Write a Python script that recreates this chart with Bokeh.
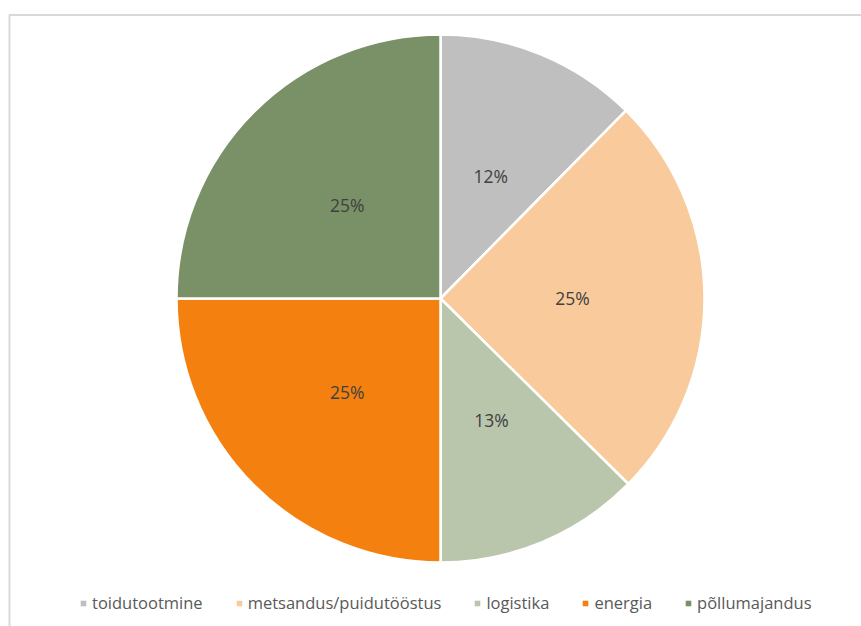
import math
from bokeh.plotting import figure
from bokeh.models import Range1d, Legend, LegendItem, ColumnDataSource
from bokeh.core.properties import value
from bokeh.embed import file_html
from bokeh.resources import INLINE

categories = ["toidutootmine", "metsandus/puidutööstus", "logistika", "energia", "põllumajandus"]
values = [12.4, 25.0, 12.6, 25.0, 25.0]
labels = ["12%", "25%", "13%", "25%", "25%"]
colors = ["#BFBFBF", "#F9CB9C", "#BAC6AC", "#F4800F", "#7A9167"]

W, H = 861, 626
p = figure(width=W, height=H, output_backend="svg", toolbar_location=None,
           x_range=Range1d(0, W), y_range=Range1d(-H, 0),
           min_border=0, min_border_left=0, min_border_right=0,
           min_border_top=0, min_border_bottom=0)
p.axis.visible = False
p.grid.visible = False
p.outline_line_color = None
p.background_fill_color = "white"
p.border_fill_color = "white"

# chart-area frame (top and left edges visible)
p.line(x=[9, 9, W + 5], y=[-H - 5, -14.5, -14.5], line_color="#D9D9D9", line_width=2)

cx, cy, R = 440, -298, 264
total = sum(values)
starts, ends, lx, ly = [], [], [], []
cum = 0.0
for v in values:
    a0 = math.pi / 2 - 2 * math.pi * cum / total
    cum += v
    a1 = math.pi / 2 - 2 * math.pi * cum / total
    starts.append(a0)
    ends.append(a1)
    mid = (a0 + a1) / 2
    lx.append(cx + 0.5 * R * math.cos(mid))
    ly.append(cy + 0.5 * R * math.sin(mid))

src = ColumnDataSource(dict(start=starts, end=ends, color=colors, cat=categories,
                            lx=lx, ly=ly, lab=labels))
p.wedge(x=cx, y=cy, radius=R, start_angle="start", end_angle="end", direction="clock",
        fill_color="color", line_color="white", line_width=2.5, source=src)
p.text(x="lx", y="ly", text="lab", source=src, text_align="center", text_baseline="middle",
       text_font=value("Open Sans"), text_font_size="17.5px", text_color="#404040")

items = []
for c, col in zip(categories, colors):
    r = p.scatter(x=[-1000], y=[-1000], marker="square", size=7, fill_color=col, line_color=None)
    items.append(LegendItem(label=c, renderers=[r]))
legend = Legend(items=items, orientation="horizontal", location=(76, 12),
                glyph_width=14, glyph_height=14, label_standoff=2, spacing=29, padding=0,
                margin=0, border_line_alpha=0, background_fill_alpha=0,
                label_text_font="Open Sans", label_text_font_size="16.5px",
                label_text_color="#595959")
p.add_layout(legend, "center")

open("out.html", "w").write(file_html(p, INLINE))
